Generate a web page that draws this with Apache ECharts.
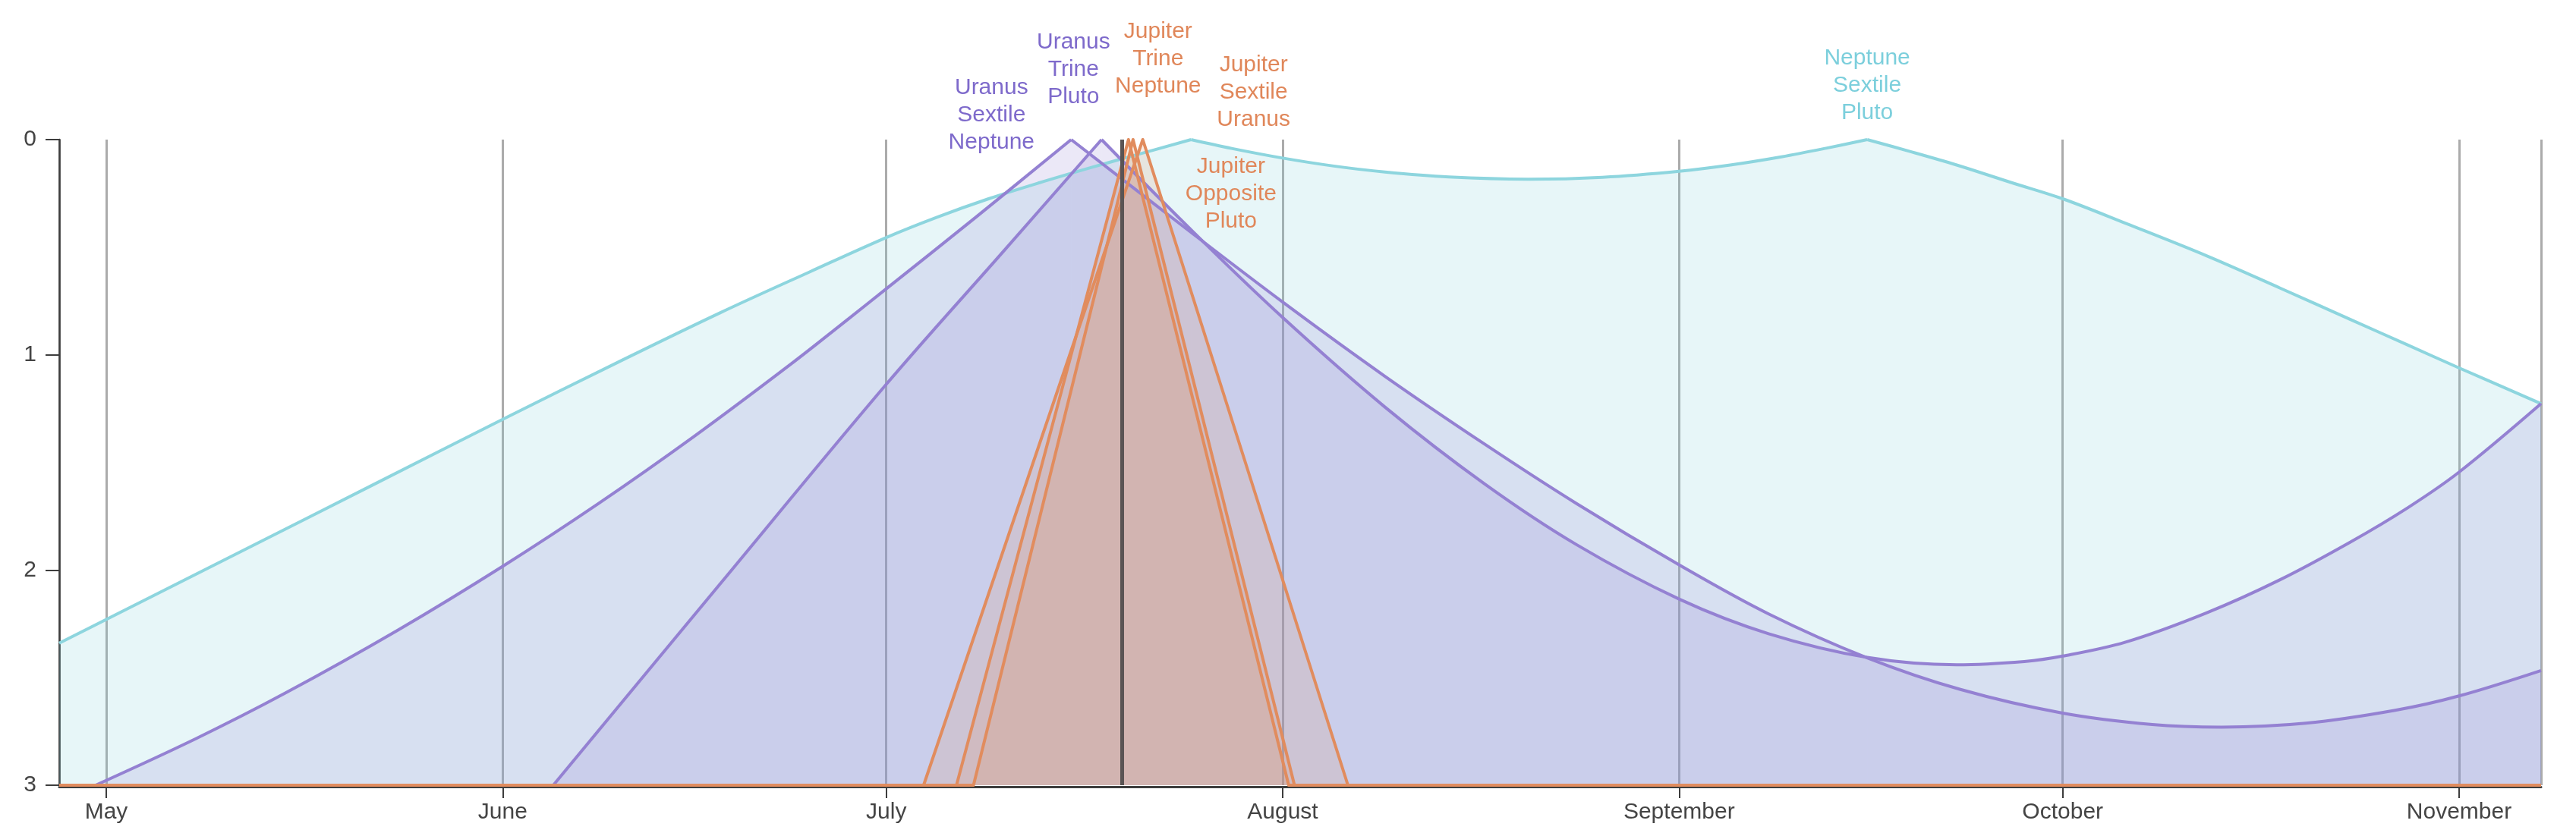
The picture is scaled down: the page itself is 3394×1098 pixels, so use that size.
<!DOCTYPE html>
<html>
<head>
<meta charset="utf-8">
<script src="https://cdn.jsdelivr.net/npm/echarts@6/dist/echarts.min.js"></script>
<style>
  html, body { margin: 0; padding: 0; background: #fff; }
  #chart { width: 3394px; height: 1098px; }
</style>
</head>
<body>
<div id="chart"></div>
<script>
// tick labels and time window
var monthNames = ['January','February','March','April','May','June','July','August','September','October','November','December'];
var axisStart = '2026-04-27 07:40';
var axisEnd = '2026-11-07 09:50';
var today = '2026-07-19 10:50';

// Neptune Sextile Pluto
var nspDates = ['2026-04-27 07:40','2026-05-01','2026-05-12','2026-05-22','2026-06-01','2026-06-10','2026-06-18','2026-06-25','2026-07-01','2026-07-05','2026-07-09','2026-07-13','2026-07-17','2026-07-20','2026-07-24 20:00','2026-07-28','2026-08-01','2026-08-05','2026-08-09','2026-08-14','2026-08-20 05:00','2026-08-26','2026-09-01','2026-09-05','2026-09-09','2026-09-12 12:00','2026-09-15 17:00','2026-09-19','2026-09-22 17:00','2026-09-27','2026-10-01','2026-10-06','2026-10-12 05:00','2026-10-18','2026-10-23 12:00','2026-10-28','2026-11-01','2026-11-07 09:50'];
var nspValues = [2.34,2.23,1.90,1.60,1.30,1.035,0.805,0.615,0.455,0.36,0.275,0.20,0.13,0.08,0,0.041,0.086,0.123,0.151,0.174,0.184,0.175,0.147,0.118,0.080,0.040,0,0.054,0.118,0.20,0.275,0.391,0.539,0.69,0.836,0.955,1.061,1.227];

// Uranus Sextile Neptune
var usnDates = ['2026-04-30 04:00','2026-05-08','2026-05-15','2026-05-23 19:00','2026-06-01','2026-06-08 12:00','2026-06-16','2026-06-23 12:00','2026-06-28','2026-07-01','2026-07-08','2026-07-15 11:00','2026-07-24','2026-08-01','2026-08-09','2026-08-16 19:00','2026-08-24','2026-09-01','2026-09-08','2026-09-15 17:00','2026-09-23','2026-10-01','2026-10-08','2026-10-13 10:00','2026-10-20','2026-10-27','2026-11-01','2026-11-07 09:50'];
var usnValues = [3,2.784,2.572,2.28,1.983,1.691,1.378,1.045,0.835,0.693,0.361,0,0.393,0.755,1.10,1.415,1.692,1.976,2.204,2.408,2.555,2.665,2.718,2.73,2.712,2.652,2.585,2.467];

// Uranus Trine Pluto
var utpDates = ['2026-06-04 23:00','2026-06-18','2026-07-01','2026-07-10','2026-07-17 20:00','2026-07-25','2026-08-01','2026-08-09','2026-08-16 19:00','2026-08-24','2026-09-01','2026-09-08','2026-09-15 17:00','2026-09-22 17:00','2026-09-28','2026-10-01','2026-10-05 22:00','2026-10-12 05:00','2026-10-18','2026-10-23 12:00','2026-10-28','2026-11-01','2026-11-07 09:50'];
var utpValues = [3,2.065,1.137,0.53,0,0.429,0.827,1.243,1.60,1.883,2.135,2.296,2.406,2.44,2.425,2.40,2.335,2.20,2.045,1.87,1.71,1.545,1.227];

// Jupiter Trine Neptune
var jtnDates = ['2026-04-27 07:40','2026-07-06 11:45','2026-07-19 22:30','2026-08-01 11:15','2026-11-07 09:50'];
var jtnValues = [3,3,0,3,3];

// Jupiter Opposite Pluto
var jopDates = ['2026-04-27 07:40','2026-07-07 19:40','2026-07-20 07:10','2026-08-01 22:05','2026-11-07 09:50'];
var jopValues = [3,3,0,3,3];

// Jupiter Sextile Uranus
var jsuDates = ['2026-04-27 07:40','2026-07-03 22:05','2026-07-21 01:25','2026-08-06 02:25','2026-11-07 09:50'];
var jsuValues = [3,3,0,3,3];

var aspectNames = ['Neptune\nSextile\nPluto','Uranus\nSextile\nNeptune','Uranus\nTrine\nPluto','Jupiter\nTrine\nNeptune','Jupiter\nOpposite\nPluto','Jupiter\nSextile\nUranus'];
var labelDates = ['2026-09-15 17:00','2026-07-15 11:00','2026-07-17 20:00','2026-07-19 22:30','2026-07-20 07:10','2026-07-21 01:25'];

// split a curve at its exact hits (value 0) so the peaks stay sharp
function pieces(dates, values) {
    var out = [], cur = [];
    for (var i = 0; i < dates.length; i++) {
        cur.push([dates[i], values[i]]);
        if (values[i] === 0 && i > 0 && i < dates.length - 1) {
            out.push(cur);
            cur = [[dates[i], values[i]]];
        }
    }
    out.push(cur);
    return out;
}

var font = '"Liberation Sans", Arial, Helvetica, sans-serif';
var cyan = { line: '#8dd5de', fill: 'rgba(128,206,220,0.27)', text: '#7ccfdc' };
var purple = { line: '#9481d2', fill: 'rgba(145,125,210,0.26)', text: '#7e6acb' };
var orange = { line: '#e18c5e', fill: 'rgba(225,140,95,0.23)', text: '#e0875a' };

// label offsets from the peak point, in px
var labelOffsets = [[0, -71], [-105, -32], [-37, -92], [39, -106], [129, 72], [146, -62]];

function baseSeries(idx, data, pal, smooth) {
    return {
        name: aspectNames[idx].replace(/\n/g, ' '),
        type: 'line',
        data: data,
        showSymbol: false,
        symbol: 'none',
        smooth: smooth,
        lineStyle: { color: pal.line, width: 4, join: 'round' },
        itemStyle: { color: pal.line },
        areaStyle: { color: pal.fill, origin: 'end' }
    };
}

function labelFor(idx, pal) {
    return {
        silent: true,
        symbol: 'circle',
        symbolSize: 1,
        itemStyle: { color: 'rgba(0,0,0,0)' },
        label: {
            show: true,
            position: 'inside',
            offset: labelOffsets[idx],
            formatter: aspectNames[idx],
            color: pal.text,
            fontSize: 30,
            lineHeight: 36,
            fontFamily: font,
            align: 'center',
            verticalAlign: 'middle'
        },
        data: [{ coord: [labelDates[idx], 0] }]
    };
}

function curveSeries(idx, dates, values, pal) {
    var list = pieces(dates, values).map(function (p) {
        return baseSeries(idx, p, pal, 0.35);
    });
    list[0].markPoint = labelFor(idx, pal);
    return list;
}

function triangleSeries(idx, dates, values, pal) {
    var s = baseSeries(idx, dates.map(function (d, i) { return [d, values[i]]; }), pal, false);
    s.markPoint = labelFor(idx, pal);
    return [s];
}

var series = [].concat(
    curveSeries(0, nspDates, nspValues, cyan),
    curveSeries(1, usnDates, usnValues, purple),
    curveSeries(2, utpDates, utpValues, purple),
    triangleSeries(3, jtnDates, jtnValues, orange),
    triangleSeries(4, jopDates, jopValues, orange),
    triangleSeries(5, jsuDates, jsuValues, orange)
);

series[0].markLine = {
    silent: true,
    symbol: ['none', 'none'],
    label: { show: false },
    lineStyle: { color: '#5a5454', width: 5, type: 'solid' },
    data: [{ xAxis: today }]
};

var option = {
    animation: false,
    backgroundColor: '#fff',
    grid: { left: 78, right: 46, top: 184, bottom: 63, containLabel: false },
    xAxis: {
        type: 'time',
        min: axisStart,
        max: axisEnd,
        offset: 2,
        splitNumber: 6,
        minInterval: 28 * 86400000,
        maxInterval: 31 * 86400000,
        axisLine: { show: true, onZero: false, lineStyle: { color: '#3d3d3d', width: 3 } },
        axisTick: { show: true, length: 15, lineStyle: { color: '#3d3d3d', width: 2 } },
        axisLabel: {
            color: '#444',
            fontSize: 30,
            fontFamily: font,
            margin: 19,
            showMinLabel: false,
            showMaxLabel: false,
            hideOverlap: false,
            formatter: function (value) {
                var d = new Date(value);
                if (d.getDate() !== 1 || d.getHours() !== 0) return '';
                return monthNames[d.getMonth()];
            }
        },
        splitLine: { show: true, lineStyle: { color: 'rgba(0,0,0,0.33)', width: 3 } }
    },
    yAxis: {
        type: 'value',
        inverse: true,
        min: 0,
        max: 3,
        interval: 1,
        axisLine: { show: true, lineStyle: { color: '#3d3d3d', width: 2.5 } },
        axisTick: { show: true, length: 18, lineStyle: { color: '#3d3d3d', width: 2 } },
        axisLabel: { color: '#444', fontSize: 30, fontFamily: font, margin: 30 },
        splitLine: { show: false }
    },
    series: series
};

var myChart = echarts.init(document.getElementById('chart'));
myChart.setOption(option);
</script>
</body>
</html>
